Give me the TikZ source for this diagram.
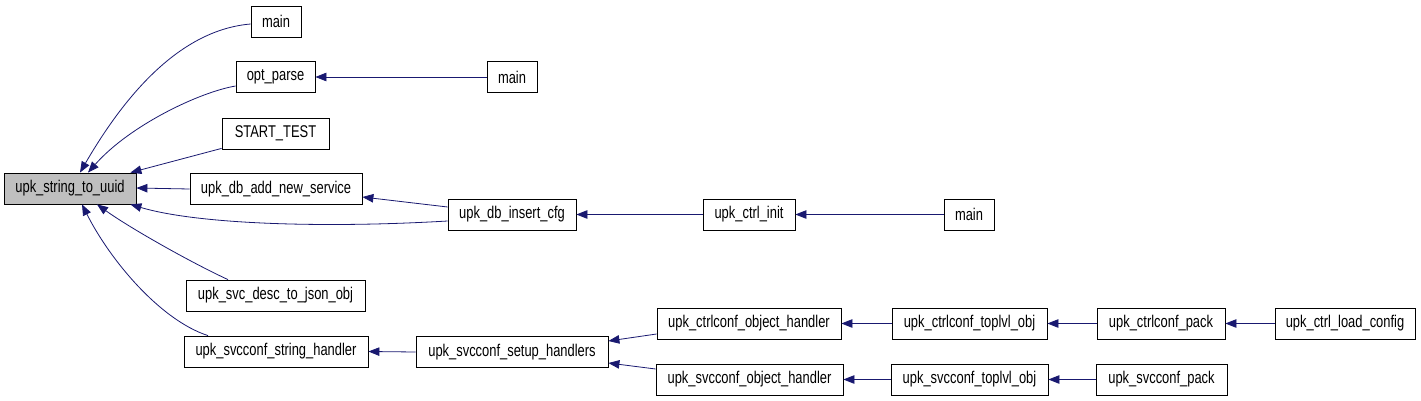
\documentclass[tikz,border=0pt]{standalone}
\usepackage{fontspec}
\setmainfont{Liberation Sans}
\newfontfamily\narrowsans[FakeStretch=0.76]{Liberation Sans}
\usetikzlibrary{arrows.meta}
\definecolor{edgeblue}{HTML}{191970}
\definecolor{nodegray}{HTML}{BFBFBF}
\tikzset{
  fn/.style={draw=black, line width=0.8pt, fill=white, minimum height=31pt, inner sep=0pt,
    font=\narrowsans\fontsize{17}{20}\selectfont, anchor=center},
  hl/.style={fn, fill=nodegray},
  edge/.style={draw=edgeblue, line width=0.8pt, -{Triangle[length=11pt,width=8.5pt]}},
}
\begin{document}
\begin{tikzpicture}[x=1pt,y=-1pt]
\useasboundingbox (0,0) rectangle (1421,401);
% nodes
\node[hl, minimum width=132pt] (uuid) at (70,188.5) {upk\_string\_to\_uuid};
\node[fn, minimum width=50pt] (mainA) at (276,21.5) {main};
\node[fn, minimum width=79pt] (opt) at (275.5,77) {opt\_parse};
\node[fn, minimum width=107pt] (start) at (275.5,133.5) {START\_TEST};
\node[fn, minimum width=172pt] (addsvc) at (276,189) {upk\_db\_add\_new\_service};
\node[fn, minimum width=128pt] (inscfg) at (512,214.5) {upk\_db\_insert\_cfg};
\node[fn, minimum width=179pt] (desc) at (275.5,295.5) {upk\_svc\_desc\_to\_json\_obj};
\node[fn, minimum width=184pt] (strh) at (276,351.5) {upk\_svcconf\_string\_handler};
\node[fn, minimum width=50pt] (mainB) at (512,77) {main};
\node[fn, minimum width=192pt] (setup) at (512,352) {upk\_svcconf\_setup\_handlers};
\node[fn, minimum width=92pt] (cinit) at (749,214.5) {upk\_ctrl\_init};
\node[fn, minimum width=50pt] (mainC) at (969,214.5) {main};
\node[fn, minimum width=184pt] (cobj) at (749,323.5) {upk\_ctrlconf\_object\_handler};
\node[fn, minimum width=187pt] (sobj) at (749.5,379.5) {upk\_svcconf\_object\_handler};
\node[fn, minimum width=155pt] (ctop) at (969.5,323.5) {upk\_ctrlconf\_toplvl\_obj};
\node[fn, minimum width=157pt] (stop) at (969.5,379.5) {upk\_svcconf\_toplvl\_obj};
\node[fn, minimum width=128pt] (cpack) at (1161,323.5) {upk\_ctrlconf\_pack};
\node[fn, minimum width=131pt] (spack) at (1161.5,379.5) {upk\_svcconf\_pack};
\node[fn, minimum width=140pt] (cload) at (1345,323.5) {upk\_ctrl\_load\_config};
% edges into upk_string_to_uuid
\draw[edge] ([yshift=-2.5pt]mainA.west) .. controls (180,30) and (125,95) .. ([xshift=10pt]uuid.north);
\draw[edge] ([yshift=-9pt]opt.west) .. controls (200,92) and (130,125) .. ([xshift=18pt]uuid.north);
\draw[edge] ([yshift=1pt]start.south west) -- ([xshift=-6pt]uuid.north east);
\draw[edge] (addsvc.west) -- ([yshift=0.5pt]uuid.east);
\draw[edge] ([yshift=-6.5pt]inscfg.west) .. controls (330,228) and (200,225) .. ([xshift=-6pt]uuid.south east);
\draw[edge] ([xshift=-47.5pt]desc.north) .. controls (190,262) and (130,228) .. ([xshift=27pt]uuid.south);
\draw[edge] ([xshift=-68pt]strh.north) .. controls (160,320) and (110,260) .. ([xshift=12pt]uuid.south);
% other edges
\draw[edge] (mainB.west) -- (opt.east);
\draw[edge] ([yshift=7.5pt]inscfg.west) -- ([yshift=-8pt]addsvc.east);
\draw[edge] (cinit.west) -- (inscfg.east);
\draw[edge] (mainC.west) -- (cinit.east);
\draw[edge] (setup.west) -- (strh.east);
\draw[edge] ([yshift=-10.5pt]cobj.west) -- ([yshift=11pt]setup.east);
\draw[edge] ([yshift=10.5pt]sobj.west) -- ([yshift=-11pt]setup.east);
\draw[edge] (ctop.west) -- (cobj.east);
\draw[edge] (stop.west) -- (sobj.east);
\draw[edge] (cpack.west) -- (ctop.east);
\draw[edge] (spack.west) -- (stop.east);
\draw[edge] (cload.west) -- (cpack.east);
\end{tikzpicture}
\end{document}
